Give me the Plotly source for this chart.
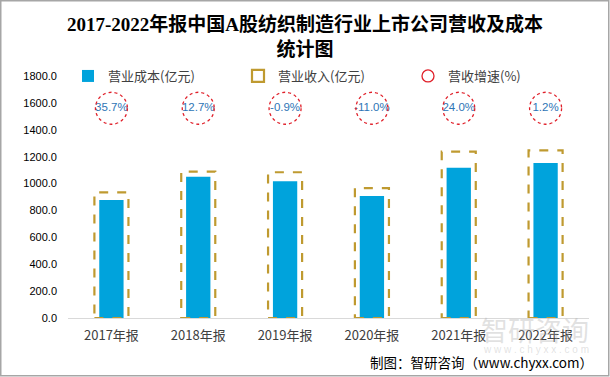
import plotly.graph_objects as go

# ---- data ----
categories = ["2017年报", "2018年报", "2019年报", "2020年报", "2021年报", "2022年报"]
cost = [877, 1050, 1018, 907, 1117, 1152]          # 营业成本(亿元)
revenue = [935, 1089, 1084, 966, 1237, 1247]       # 营业收入(亿元)
growth = [35.7, 12.7, -0.9, -11.0, 24.0, 1.2]      # 营收增速(%)
y_ticks = [0, 200, 400, 600, 800, 1000, 1200, 1400, 1600, 1800]
y_tick_labels = [f"{v:.1f}" for v in y_ticks]

# ---- layout constants ----
W, H = 610, 377
ML, MR, MT, MB = 68, 21, 76, 59
PW, PH = W - ML - MR, H - MT - MB
LABEL_Y = 1560
BOX_HALF = 0.196
CJK = "Noto Sans CJK SC"

fig = go.Figure()
fig.add_trace(go.Bar(
    x=categories, y=cost, name="营业成本(亿元)", width=0.28,
    marker=dict(color="#00A3DC", line=dict(width=0)),
))
fig.add_trace(go.Scatter(
    x=categories, y=[LABEL_Y] * len(categories), mode="text",
    text=[f"{g:.1f}%" for g in growth],
    textfont=dict(family="Liberation Sans", size=11.5, color="#2E75B6"),
    showlegend=False, hoverinfo="skip",
))

shapes = []
for i, v in enumerate(revenue):
    shapes.append(dict(
        type="rect", xref="x", yref="y", x0=i - BOX_HALF, x1=i + BOX_HALF, y0=0, y1=v,
        line=dict(color="#BF9A30", width=2.2, dash="dash"), fillcolor="rgba(0,0,0,0)",
        showlegend=(i == 0), name="营业收入(亿元)", legendgroup="rev", layer="above",
    ))
for i, g in enumerate(growth):
    shapes.append(dict(
        type="circle", xref="x", yref="y", xsizemode="pixel", ysizemode="pixel",
        xanchor=i, yanchor=LABEL_Y, x0=-16, x1=16, y0=-16, y1=16,
        line=dict(color="#E0202A", width=1.3, dash="dot"), fillcolor="rgba(0,0,0,0)",
        showlegend=(i == 0), name="营收增速(%)", legendgroup="gr",
    ))
# outer frame
shapes.append(dict(
    type="rect", xref="paper", yref="paper",
    x0=-(ML - 0.75) / PW, x1=(W - ML - 1.25) / PW,
    y0=-(MB - 1.25) / PH, y1=(H - MB - 0.75) / PH,
    line=dict(color="#A6A6A6", width=1.5), fillcolor="rgba(0,0,0,0)",
))

annotations = [
    dict(text="制图：智研咨询（www.chyxx.com）", xref="paper", yref="paper",
         x=(595 - ML) / PW, y=-(362 - MT - PH) / PH, xanchor="right", yanchor="middle",
         showarrow=False, font=dict(family=CJK, size=13.5, color="#000000")),
    dict(text="智研咨询", xref="paper", yref="paper",
         x=(591 - ML) / PW, y=-(329 - MT - PH) / PH, xanchor="right", yanchor="middle",
         showarrow=False, font=dict(family=CJK, size=27, color="rgba(170,170,170,0.35)")),
    dict(text="w w w . c h y x x . c o m", xref="paper", yref="paper",
         x=(591 - ML) / PW, y=-(349 - MT - PH) / PH, xanchor="right", yanchor="middle",
         showarrow=False, font=dict(family="Liberation Sans", size=10, color="rgba(170,170,170,0.35)")),
]

fig.update_layout(
    width=W, height=H,
    margin=dict(l=ML, r=MR, t=MT, b=MB, autoexpand=False),
    paper_bgcolor="white", plot_bgcolor="white",
    barmode="overlay",
    title=dict(
        text="2017-2022年报中国A股纺织制造行业上市公司营收及成本<br>统计图",
        x=0.5, xanchor="center", y=1 - 31 / H, yanchor="middle",
        font=dict(family="Liberation Serif, " + CJK, size=19, color="#000000", weight="bold"),
    ),
    xaxis=dict(
        type="category", range=[-0.5, len(categories) - 0.5],
        showline=True, linecolor="#D9D9D9", linewidth=1, showgrid=False, ticks="",
        tickfont=dict(family=CJK, size=13, color="#404040"), fixedrange=True,
        ticklabelstandoff=5,
    ),
    yaxis=dict(
        range=[0, 1800], tickvals=y_ticks, ticktext=y_tick_labels,
        showgrid=False, zeroline=False, showline=False, ticks="",
        tickfont=dict(family="Liberation Sans", size=11, color="#000000"), fixedrange=True,
        ticklabelstandoff=10,
    ),
    legend=dict(
        orientation="h", x=0.0, xanchor="left", y=1.0, yanchor="middle",
        font=dict(family=CJK, size=13, color="#404040"),
        entrywidth=125, entrywidthmode="pixels", bgcolor="rgba(0,0,0,0)",
        itemwidth=30,
    ),
    shapes=shapes,
    annotations=annotations,
    showlegend=True,
)

fig.write_html(
    "out.html",
    config={"displayModeBar": False},
    post_script="document.body.style.margin='0';document.body.style.overflow='hidden';",
)
